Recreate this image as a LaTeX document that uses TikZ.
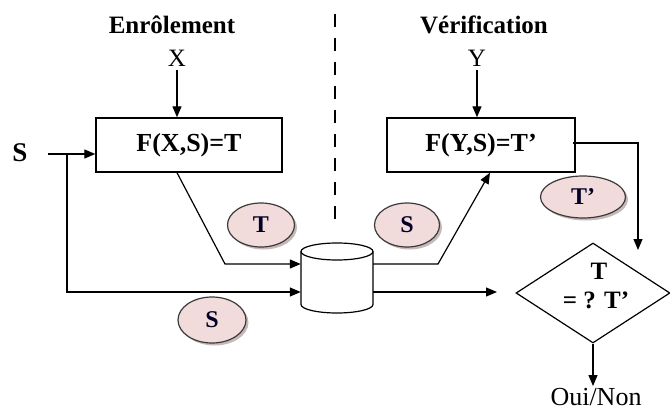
\documentclass[tikz,border=0pt]{standalone}
\usepackage{fontspec}
\setmainfont{Liberation Serif}
\usetikzlibrary{arrows.meta,shapes.geometric,shadows,calc}
\definecolor{tokfill}{HTML}{F2DCDB}
\definecolor{tokline}{HTML}{3A3A3A}
\definecolor{shadowc}{HTML}{B8A8A8}
\begin{document}
\begin{tikzpicture}[x=1pt,y=-1pt,
  arr/.style={line width=1.2pt,-{Triangle[length=11pt,width=9pt]}},
  ln/.style={line width=1.2pt},
  box/.style={draw,line width=1.4pt,minimum height=54pt,inner sep=0pt,font=\fontsize{26}{28}\selectfont\bfseries},
  lbl/.style={inner sep=0pt,font=\fontsize{25}{27}\selectfont},
  blbl/.style={inner sep=0pt,font=\fontsize{25}{27}\selectfont\bfseries},
  tok/.style={ellipse,draw=tokline,line width=1.2pt,fill=tokfill,inner sep=0pt,
    font=\fontsize{24}{26}\selectfont\bfseries,text=black!85!blue,
    drop shadow={shadow xshift=2.5pt,shadow yshift=-2.5pt,fill=shadowc,opacity=0.8}}
]
\useasboundingbox (0,0) rectangle (670,412);
% titles
\node[blbl] (enr) at (172,25) {Enrôlement};
\node[blbl] (ver) at (484,25) {Vérification};
\coordinate (d1) at (335,14);
\coordinate (d2) at (335,220);
\draw[line width=2.6pt,dash pattern=on 13pt off 11pt] (d1) -- (d2);
% inputs
\node[lbl] (X) at (177,58) {X};
\node[lbl] (Y) at (477,58) {Y};
% boxes
\node[box,minimum width=186pt] (box1) at (189,145) {F(X,S)=T};
\node[box,minimum width=188pt] (box2) at (481,145) {F(Y,S)=T’};
\draw[arr] ([yshift=-4pt]X.south) -- (X.south |- box1.north);
\draw[arr] ([yshift=-4pt]Y.south) -- (Y.south |- box2.north);
% S input
\node[blbl,font=\fontsize{27}{29}\selectfont\bfseries] (S) at (20,153) {S};
\coordinate (j) at (67,154);
\draw[arr] ([xshift=20pt,yshift=-1pt]S.east) -- ([yshift=-9pt]box1.west);
% cylinder
\node[minimum width=72pt,minimum height=70pt,inner sep=0pt] (cyl) at (337,278) {};
\draw[line width=1.2pt,fill=white] (301,251.5) -- (301,304.5) arc[start angle=180,end angle=0,x radius=36,y radius=8.5] -- (373,251.5);
\draw[line width=1.2pt] (337,251.5) ellipse[x radius=36,y radius=8.5];
\draw[arr] (j) -- (67,292) -- ([yshift=-14pt]cyl.west);
\draw[arr] ([xshift=-12pt]box1.south) -- (225,264) -- ([yshift=14pt]cyl.west);
\draw[arr] ([yshift=14pt]cyl.east) -- (438,264) -- ([xshift=9pt]box2.south);
% decision
\node[diamond,draw,line width=1.2pt,minimum width=154pt,minimum height=100pt,inner sep=0pt] (dia) at (593,293) {};
\node[blbl] (dT) at (599,271) {T};
\node[blbl] (dE) at (596,300) {= ? T’};
\coordinate (c1) at (497,292);
\draw[arr] ([yshift=-14pt]cyl.east) -- (c1);
\coordinate (c2) at (638,250);
\draw[arr] ([xshift=-3pt,yshift=2pt]box2.east) -| (c2);
\node[lbl,font=\fontsize{26}{28}\selectfont] (oui) at (596,397) {Oui/Non};
\draw[arr] (dia.south) -- ([yshift=2pt]oui.north -| dia.south);
% tokens
\node[tok,minimum width=67pt,minimum height=44pt] (eT) at (261,225) {T};
\node[tok,minimum width=65pt,minimum height=44pt] (eS1) at (407,225) {S};
\node[tok,minimum width=85pt,minimum height=42pt] (eTp) at (583,197) {T’};
\node[tok,minimum width=68pt,minimum height=46pt] (eS2) at (212,320) {S};
\end{tikzpicture}
\end{document}
